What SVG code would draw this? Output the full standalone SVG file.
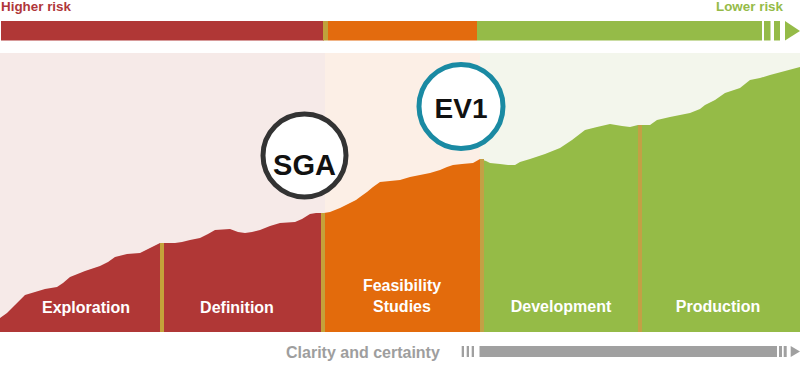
<svg xmlns="http://www.w3.org/2000/svg" width="800" height="366" viewBox="0 0 800 366">
<style>
text{font-family:"Liberation Sans",Arial,sans-serif;font-weight:bold}
.lbl{fill:#ffffff;font-size:16px;text-anchor:middle}
.gold{fill:#c4a23a}
</style>
<rect width="800" height="366" fill="#ffffff"/>
<g id="risk-bar">
<text x="1" y="11" font-size="13.4" fill="#b0373a">Higher risk</text>
<text x="783" y="11" font-size="13.4" fill="#95bb48" text-anchor="end">Lower risk</text>
<rect x="1" y="21" width="323" height="19.5" fill="#b03736"/>
<rect x="323" y="21" width="5" height="19.5" fill="#c0a23b"/>
<rect x="328" y="21" width="149" height="19.5" fill="#e36b0e"/>
<rect x="477" y="21" width="285" height="19.5" fill="#95bb48"/>
<rect x="764" y="21" width="6.5" height="19.5" fill="#95bb48"/>
<rect x="774" y="21" width="6" height="19.5" fill="#95bb48"/>
<polygon points="785,21 800,31 785,40.5" fill="#95bb48"/>
</g>
<g id="background">
<rect x="0" y="53" width="325" height="279" fill="#f6eae8"/>
<rect x="325" y="53" width="155" height="279" fill="#fcefe6"/>
<rect x="480" y="53" width="320" height="279" fill="#f3f6ec"/>
</g>
<g id="curve">
<path id="exploration-definition" fill="#b03736" d="M0,332 L0,318 L7,313 L15,305 L25,295 L35,292 L45,289 L57,287 L63,283 L70,277 L85,271 L100,266 L108,262 L115,257 L127,254 L140,253 L150,248 L160,243 L175,243 L182,242 L190,240 L200,238 L208,234 L215,230 L230,229 L238,232 L245,233 L252,232 L260,230 L270,226 L280,223 L295,222 L302,219 L310,214 L316,213 L324,213 L324,332 Z"/>
<path id="feasibility" fill="#e36b0c" d="M324,332 L324,213 L330,212 L340,208 L350,203 L356,200 L360,197 L367,192 L373,187 L380,182 L390,181 L400,180 L410,177 L420,175 L430,173 L440,170 L447,167 L453,165 L462,164 L473,163 L480,159 L480,332 Z"/>
<path id="development-production" fill="#95bb47" d="M480,332 L480,159 L486,161 L490,163 L500,164 L508,165 L515,165 L520,162 L530,159 L545,154 L560,148 L572,140 L585,130 L597,127 L610,124 L622,126 L630,127 L638,125 L650,125 L657,120 L670,117 L690,113 L700,109 L705,105 L715,100 L725,93 L740,88 L750,80 L760,78 L770,75 L785,71 L800,67 L800,332 Z"/>
<rect class="gold" x="160" y="243" width="4" height="89"/>
<rect class="gold" x="321" y="213" width="4" height="119"/>
<rect x="480" y="159" width="4" height="173" fill="#c3a045"/>
<rect x="638" y="125" width="4" height="207" fill="#c3a045"/>
</g>
<g id="labels">
<text class="lbl" x="86" y="313">Exploration</text>
<text class="lbl" x="237" y="313">Definition</text>
<text class="lbl" x="402" y="291">Feasibility</text>
<text class="lbl" x="402" y="312">Studies</text>
<text class="lbl" x="561" y="312">Development</text>
<text class="lbl" x="718" y="312">Production</text>
</g>
<g id="sga">
<circle cx="304.5" cy="155.5" r="41.5" fill="#ffffff" stroke="#333333" stroke-width="5"/>
<text x="304.5" y="175" font-size="29" text-anchor="middle" fill="#111111">SGA</text>
</g>
<g id="ev1">
<circle cx="461" cy="106.5" r="42" fill="#ffffff" stroke="#1a8aa3" stroke-width="5"/>
<text x="461" y="118" font-size="28" text-anchor="middle" fill="#111111">EV1</text>
</g>
<g id="clarity-bar">
<text x="286" y="358" font-size="16" fill="#9e9e9e">Clarity and certainty</text>
<rect x="461.7" y="346" width="2.3" height="11" fill="#a0a0a0"/>
<rect x="466.7" y="346" width="2.3" height="11" fill="#a0a0a0"/>
<rect x="471.7" y="346" width="2.3" height="11" fill="#a0a0a0"/>
<rect x="479.5" y="346" width="297.5" height="11" fill="#a0a0a0"/>
<rect x="779" y="346" width="3" height="11" fill="#a0a0a0"/>
<rect x="783.7" y="346" width="3" height="11" fill="#a0a0a0"/>
<polygon points="790.7,346 800,351.5 790.7,357" fill="#a0a0a0"/>
</g>
</svg>
